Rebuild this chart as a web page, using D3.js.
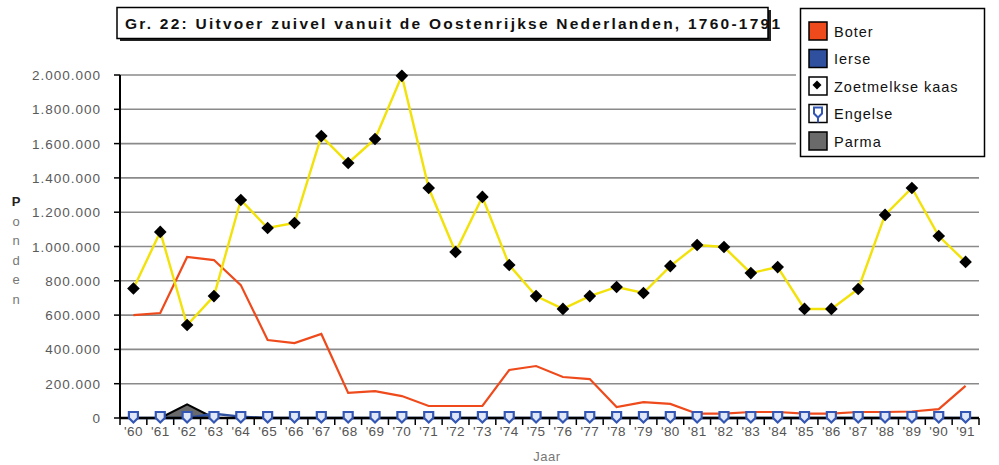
<!DOCTYPE html>
<html>
<head>
<meta charset="utf-8">
<script src="https://cdn.jsdelivr.net/npm/d3@7"></script>
<style>
  body { margin: 0; background: #fff; }
  svg { font-family: "Liberation Sans", Arial, sans-serif; }
</style>
</head>
<body>
<svg id="chart" width="999" height="465"></svg>
<script>
var width = 999;
var height = 465;

// data (ponden)
var years = d3.range(1760, 1792);
var yearLabels = years.map(y => "'" + String(y).slice(2));

var boter = [600000, 612000, 939000, 921000, 775000, 455000, 437000, 490000, 146000, 157000,
  128000, 70000, 70000, 70000, 280000, 303000, 239000, 227000, 64000, 93000,
  82000, 25000, 25000, 35000, 35000, 25000, 25000, 35000, 35000, 38000, 52000, 187000];
var ierse = [0, 0, 0, 25000, 8000, 0, 0, 0, 0, 0, 0, 0, 0, 0, 0, 0,
  0, 0, 0, 0, 0, 0, 0, 0, 0, 0, 0, 0, 0, 0, 0, 0];
var zoetmelkse = [755000, 1085000, 542000, 711000, 1271000, 1108000, 1137000, 1644000, 1487000, 1627000,
  1995000, 1341000, 968000, 1289000, 892000, 711000, 636000, 711000, 764000, 729000,
  886000, 1009000, 997000, 845000, 880000, 636000, 636000, 752000, 1184000, 1341000, 1061000, 910000];
var engelse = years.map(() => 0);
var parma = [0, 0, 80000, 0, 0, 0, 0, 0, 0, 0, 0, 0, 0, 0, 0, 0,
  0, 0, 0, 0, 0, 0, 0, 0, 0, 0, 0, 0, 0, 0, 0, 0];

var yTicks = [0, 200000, 400000, 600000, 800000, 1000000, 1200000, 1400000, 1600000, 1800000, 2000000];
var titleText = "Gr. 22: Uitvoer zuivel vanuit de Oostenrijkse Nederlanden, 1760-1791";
var legendNames = ["Boter", "Ierse", "Zoetmelkse kaas", "Engelse", "Parma"];

var colors = { boter: "#ee4a1c", ierse: "#2f4f9f", zoet: "#f2e20a", engelse: "#3356b5", parma: "#6a6a6a" };

var plot = { l: 120, r: 979, t: 75, b: 418 };

var svg = d3.select("#chart");

var nl = d3.formatLocale({ decimal: ",", thousands: ".", grouping: [3], currency: ["", ""] });
var fmt = nl.format(",d");

var xScale = d3.scaleBand().domain(yearLabels).range([plot.l, plot.r]);
var xc = (i) => xScale(yearLabels[i]) + xScale.bandwidth() / 2;
var yScale = d3.scaleLinear().domain([0, 2000000]).range([plot.b, plot.t]);

// gridlines (top ones hidden behind legend)
svg.append("g")
  .selectAll("line")
  .data(yTicks.slice(1))
  .enter()
  .append("line")
  .attr("x1", plot.l)
  .attr("x2", plot.r)
  .attr("y1", d => yScale(d))
  .attr("y2", d => yScale(d))
  .attr("stroke", "#8a8a8a")
  .attr("stroke-width", 1.6);

// y axis labels
svg.append("g")
  .selectAll("text")
  .data(yTicks)
  .enter()
  .append("text")
  .attr("x", 101)
  .attr("y", d => yScale(d) + 5)
  .attr("text-anchor", "end")
  .attr("font-size", 13.5)
  .attr("letter-spacing", 1)
  .attr("fill", "#5a5a5a")
  .text(d => fmt(d));

// y tick marks
svg.append("g")
  .selectAll("line")
  .data(yTicks)
  .enter()
  .append("line")
  .attr("x1", plot.l - 6)
  .attr("x2", plot.l)
  .attr("y1", d => yScale(d))
  .attr("y2", d => yScale(d))
  .attr("stroke", "#000")
  .attr("stroke-width", 1.5);

// y axis title, stacked letters
svg.append("g")
  .selectAll("text")
  .data("Ponden".split(""))
  .enter()
  .append("text")
  .attr("x", 16)
  .attr("y", (d, i) => 206 + i * 19.5)
  .attr("text-anchor", "middle")
  .attr("font-size", 13)
  .attr("font-weight", (d, i) => i === 0 ? "bold" : "normal")
  .attr("fill", (d, i) => i === 0 ? "#222" : "#777")
  .text(d => d);

// x axis labels
var xAxis = d3.axisBottom(xScale).tickSize(0).tickPadding(8);
var gx = svg.append("g")
  .attr("transform", "translate(0," + plot.b + ")")
  .call(xAxis);
gx.select(".domain").remove();
gx.selectAll("text")
  .attr("font-size", 13.5)
  .attr("font-family", "Liberation Sans, Arial, sans-serif")
  .attr("letter-spacing", 0.4)
  .attr("fill", "#555");

// x tick marks at band boundaries
svg.append("g")
  .selectAll("line")
  .data(yearLabels.concat(["end"]))
  .enter()
  .append("line")
  .attr("x1", d => d === "end" ? plot.r : xScale(d))
  .attr("x2", d => d === "end" ? plot.r : xScale(d))
  .attr("y1", plot.b)
  .attr("y2", plot.b + 7)
  .attr("stroke", "#000")
  .attr("stroke-width", 1.5);

svg.append("text")
  .attr("x", 547)
  .attr("y", 461)
  .attr("text-anchor", "middle")
  .attr("font-size", 13)
  .attr("letter-spacing", 0.5)
  .attr("fill", "#777")
  .text("Jaar");

// Parma area
var parmaPts = parma.map((v, i) => ({ v: v, i: i })).filter(d => d.i >= 1 && d.i <= 3);
svg.append("path")
  .datum(parmaPts)
  .attr("d", d3.area().x(d => xc(d.i)).y0(yScale(0)).y1(d => yScale(d.v)))
  .attr("fill", colors.parma)
  .attr("stroke", "#000")
  .attr("stroke-width", 2);

var line = d3.line()
  .x((d, i) => xc(i))
  .y(d => yScale(d));

// Boter
svg.append("path")
  .datum(boter)
  .attr("d", line)
  .attr("fill", "none")
  .attr("stroke", colors.boter)
  .attr("stroke-width", 2.2);

// Zoetmelkse kaas
svg.append("path")
  .datum(zoetmelkse)
  .attr("d", line)
  .attr("fill", "none")
  .attr("stroke", colors.zoet)
  .attr("stroke-width", 2.4);

// axes lines
svg.append("line")
  .attr("x1", plot.l)
  .attr("x2", plot.l)
  .attr("y1", plot.t)
  .attr("y2", plot.b)
  .attr("stroke", "#000")
  .attr("stroke-width", 2);

// Ierse + Engelse on zero line
svg.append("path")
  .datum(ierse)
  .attr("d", line)
  .attr("fill", "none")
  .attr("stroke", colors.ierse)
  .attr("stroke-width", 2.5);

svg.append("line")
  .attr("x1", plot.l)
  .attr("x2", plot.r)
  .attr("y1", plot.b)
  .attr("y2", plot.b)
  .attr("stroke", "#000")
  .attr("stroke-width", 2.5);

var shield = "M-4.5,-5.5 H4.5 V0.5 L0,5 L-4.5,0.5 Z";
svg.append("g")
  .selectAll("path")
  .data(engelse)
  .enter()
  .append("path")
  .attr("transform", (d, i) => "translate(" + xc(i) + "," + (yScale(d) - 0.5) + ")")
  .attr("d", shield)
  .attr("fill", "#dfe6f7")
  .attr("stroke", colors.engelse)
  .attr("stroke-width", 2.2);

// Zoetmelkse markers
var diamond = d3.symbol().type(d3.symbolSquare).size(80);
svg.append("g")
  .selectAll("path")
  .data(zoetmelkse)
  .enter()
  .append("path")
  .attr("transform", (d, i) => "translate(" + xc(i) + "," + yScale(d) + ") rotate(45)")
  .attr("d", diamond)
  .attr("fill", "#000");

// title box with shadow
svg.append("rect")
  .attr("x", 120).attr("y", 10).attr("width", 651).attr("height", 31)
  .attr("fill", "#222");
svg.append("rect")
  .attr("x", 117).attr("y", 7.5).attr("width", 651).attr("height", 31)
  .attr("fill", "#fff")
  .attr("stroke", "#000")
  .attr("stroke-width", 1.5);
svg.append("text")
  .attr("x", 125)
  .attr("y", 29)
  .attr("font-size", 15.5)
  .attr("font-weight", "bold")
  .attr("textLength", 655)
  .attr("lengthAdjust", "spacing")
  .attr("fill", "#111")
  .text(titleText);

// legend
var lg = svg.append("g");
lg.append("rect")
  .attr("x", 796).attr("y", 4).attr("width", 196).attr("height", 156)
  .attr("fill", "#fff");
lg.append("rect")
  .attr("x", 800.5).attr("y", 8.5).attr("width", 184).attr("height", 148)
  .attr("fill", "#fff")
  .attr("stroke", "#000")
  .attr("stroke-width", 1.5);

var swatchFill = [colors.boter, colors.ierse, "#fff", "#fff", colors.parma];
var rows = lg.selectAll(".item")
  .data(legendNames)
  .enter()
  .append("g")
  .attr("class", "item")
  .attr("transform", (d, i) => "translate(809," + (31 + i * 27.5) + ")");

rows.append("rect")
  .attr("x", 0).attr("y", -9).attr("width", 18).attr("height", 18)
  .attr("fill", (d, i) => swatchFill[i])
  .attr("stroke", "#000")
  .attr("stroke-width", 1.5);

rows.filter((d, i) => i === 2)
  .append("path")
  .attr("transform", "translate(8,-1) rotate(45)")
  .attr("d", d3.symbol().type(d3.symbolSquare).size(40))
  .attr("fill", "#000");

rows.filter((d, i) => i === 3)
  .append("path")
  .attr("transform", "translate(9,0)")
  .attr("d", "M-4,-6 H4 V0 L0,4 L-4,0 Z M0,4 V9")
  .attr("fill", "#fff")
  .attr("stroke", colors.engelse)
  .attr("stroke-width", 2);

rows.append("text")
  .attr("x", 25)
  .attr("y", 5.5)
  .attr("font-size", 14.5)
  .attr("letter-spacing", 1)
  .attr("fill", "#111")
  .text(d => d);
</script>
</body>
</html>
